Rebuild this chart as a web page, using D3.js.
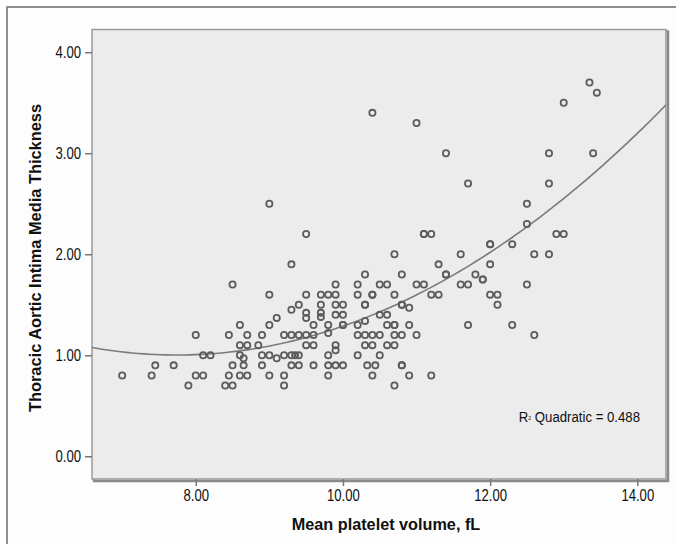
<!DOCTYPE html>
<html>
<head>
<meta charset="utf-8">
<script src="https://cdn.jsdelivr.net/npm/d3@7"></script>
<style>
  body { margin: 0; background: #fff; }
  svg { display: block; }
  .tick-label { font-family: "Liberation Sans", Arial, sans-serif; font-size: 16px; fill: #111; }
  .title { font-family: "Liberation Sans", Arial, sans-serif; font-size: 17px; font-weight: bold; fill: #111; }
</style>
</head>
<body>
<div id="chart"></div>
<script>
// mean platelet volume (x) and thoracic aortic IMT (y)
var mpv = [
  7.0, 7.4, 7.45, 7.7, 7.9, 8.0, 8.1, 8.0, 8.1, 8.2,
  8.45, 8.5, 8.45, 8.4, 8.5, 8.5, 8.6, 8.6, 8.7, 8.7,
  8.6, 8.65, 8.65, 8.6, 8.7, 8.9, 8.85, 8.9, 8.9, 9.0,
  9.0, 9.0, 9.0, 9.0, 9.1, 9.1, 9.2, 9.2, 9.2, 9.2,
  9.3, 9.3, 9.3, 9.3, 9.35, 9.3, 9.4, 9.4, 9.4, 9.4,
  9.5, 9.5, 9.5, 9.5, 9.5, 9.5, 9.6, 9.6, 9.6, 9.6,
  9.7, 9.7, 9.7, 9.7, 9.8, 9.8, 9.8, 9.8, 9.8, 9.8,
  9.9, 9.9, 9.9, 9.9, 9.9, 9.9, 9.9, 10.0, 10.0, 10.0,
  10.0, 10.0, 10.2, 10.2, 10.2, 10.2, 10.2, 10.3, 10.3, 10.3,
  10.3, 10.3, 10.3, 10.33, 10.4, 10.4, 10.4, 10.4, 10.4, 10.44,
  10.4, 10.5, 10.5, 10.5, 10.5, 10.6, 10.6, 10.6, 10.6, 10.7,
  10.7, 10.7, 10.7, 10.7, 10.7, 10.7, 10.8, 10.8, 10.8, 10.8,
  10.8, 10.8, 10.9, 10.9, 10.9, 11.0, 11.0, 11.0, 11.1, 11.1,
  11.1, 11.2, 11.2, 11.2, 11.3, 11.3, 11.4, 11.4, 11.4, 11.6,
  11.6, 11.7, 11.7, 11.7, 11.8, 11.9, 11.9, 12.0, 12.0, 12.0,
  12.0, 12.1, 12.1, 12.3, 12.3, 12.5, 12.5, 12.5, 12.6, 12.6,
  12.8, 12.8, 12.8, 12.9, 13.0, 13.0, 13.35, 13.4, 13.45
];
var imt = [
  0.8, 0.8, 0.9, 0.9, 0.7, 0.8, 0.8, 1.2, 1.0, 1.0,
  1.2, 0.9, 0.8, 0.7, 0.7, 1.7, 1.3, 1.1, 1.2, 1.1,
  1.0, 0.97, 0.9, 0.8, 0.8, 1.2, 1.1, 1.0, 0.9, 1.3,
  1.0, 0.8, 1.6, 2.5, 1.37, 0.97, 1.2, 0.8, 0.7, 1.0,
  1.45, 1.9, 1.2, 1.0, 1.0, 0.9, 1.2, 1.0, 0.9, 1.5,
  2.2, 1.6, 1.42, 1.37, 1.2, 1.1, 1.3, 1.2, 1.1, 0.9,
  1.6, 1.5, 1.42, 1.38, 1.6, 1.3, 1.22, 1.0, 0.9, 0.8,
  1.7, 1.6, 1.5, 1.4, 1.1, 1.05, 0.9, 1.5, 1.4, 1.3,
  1.3, 0.9, 1.7, 1.6, 1.3, 1.2, 1.0, 1.8, 1.5, 1.5,
  1.34, 1.2, 1.1, 0.9, 3.4, 1.6, 1.6, 1.2, 1.1, 0.9,
  0.8, 1.7, 1.4, 1.2, 1.0, 1.7, 1.4, 1.3, 1.1, 2.0,
  1.6, 1.3, 1.3, 1.2, 1.1, 0.7, 1.8, 1.5, 1.5, 1.2,
  0.9, 0.9, 1.47, 1.3, 0.8, 3.3, 1.7, 1.2, 2.2, 2.2,
  1.7, 2.2, 1.6, 0.8, 1.9, 1.6, 3.0, 1.8, 1.8, 2.0,
  1.7, 2.7, 1.7, 1.3, 1.8, 1.75, 1.75, 2.1, 2.1, 1.9,
  1.6, 1.6, 1.5, 2.1, 1.3, 2.5, 2.3, 1.7, 2.0, 1.2,
  3.0, 2.7, 2.0, 2.2, 3.5, 2.2, 3.7, 3.0, 3.6
];

var xTicks = [8, 10, 12, 14];
var yTicks = [0, 1, 2, 3, 4];
var xTitle = 'Mean platelet volume, fL';
var yTitle = 'Thoracic Aortic Intima Media Thickness';
var fitLabel = ' Quadratic = 0.488';

var width = 676, height = 544;
var plot = { left: 92, right: 666, top: 29.5, bottom: 479 };
var narrow = 0.82;   // the original uses a condensed face

var svg = d3.select('#chart')
  .append('svg')
  .attr('width', width)
  .attr('height', height);

//--- OUTER FRAME
svg.append('rect')
  .attr('x', 7).attr('y', 7)
  .attr('width', width).attr('height', height)
  .attr('fill', '#fdfdfd')
  .attr('stroke', '#6e6e6e')
  .attr('stroke-width', 1.5);

//--- SCALES
var scaleX = d3.scaleLinear()
  .domain([6.59, 14.39])
  .range([plot.left, plot.right]);

var scaleY = d3.scaleLinear()
  .domain([-0.225, 4.225])
  .range([plot.bottom, plot.top]);

//--- PLOT AREA (with the shadowed right/bottom edge)
svg.append('rect')
  .attr('x', plot.left + 2).attr('y', plot.top + 2)
  .attr('width', plot.right - plot.left).attr('height', plot.bottom - plot.top)
  .attr('fill', 'none')
  .attr('stroke', '#8a8a8a')
  .attr('stroke-width', 2.5);

svg.append('rect')
  .attr('x', plot.left).attr('y', plot.top)
  .attr('width', plot.right - plot.left).attr('height', plot.bottom - plot.top)
  .attr('fill', '#ececec')
  .attr('stroke', '#9a9a9a')
  .attr('stroke-width', 1.5);

//--- AXES
var fmt = d3.format('.2f');

var axisX = svg.append('g')
  .attr('transform', 'translate(0,' + plot.bottom + ')')
  .call(d3.axisBottom(scaleX).tickValues(xTicks).tickSize(7).tickFormat(fmt));

var axisY = svg.append('g')
  .attr('transform', 'translate(' + plot.left + ',0)')
  .call(d3.axisLeft(scaleY).tickValues(yTicks).tickSize(7).tickFormat(fmt));

[axisX, axisY].forEach(function(g) {
  g.attr('font-size', null).attr('font-family', null);
  g.select('.domain').remove();
  g.selectAll('.tick line').attr('stroke', '#777').attr('stroke-width', 1.5);
  g.selectAll('.tick text')
    .attr('class', 'tick-label')
    .attr('fill', null)
    .attr('transform', 'scale(' + narrow + ',1)');
});
axisX.selectAll('.tick text').attr('dy', null).attr('x', 0).attr('y', 22);
axisY.selectAll('.tick text').attr('x', -11 / narrow);

//--- QUADRATIC FIT (least squares on the points)
function quadFit(xs, ys) {
  var s = [0, 0, 0, 0, 0], t = [0, 0, 0];
  for (var i = 0; i < xs.length; i++) {
    var x = xs[i], y = ys[i];
    for (var k = 0; k < 5; k++) s[k] += Math.pow(x, k);
    for (var k2 = 0; k2 < 3; k2++) t[k2] += y * Math.pow(x, k2);
  }
  var m = [[s[0], s[1], s[2], t[0]], [s[1], s[2], s[3], t[1]], [s[2], s[3], s[4], t[2]]];
  for (var c = 0; c < 3; c++) {
    for (var r = c + 1; r < 3; r++) {
      var f = m[r][c] / m[c][c];
      for (var j = c; j < 4; j++) m[r][j] -= f * m[c][j];
    }
  }
  var b = [0, 0, 0];
  for (var r2 = 2; r2 >= 0; r2--) {
    var v = m[r2][3];
    for (var j2 = r2 + 1; j2 < 3; j2++) v -= m[r2][j2] * b[j2];
    b[r2] = v / m[r2][r2];
  }
  return b;
}

var coef = quadFit(mpv, imt);
var curveX = d3.range(0, 101).map(function(i) {
  return scaleX.domain()[0] + i * (scaleX.domain()[1] - scaleX.domain()[0]) / 100;
});

var lineFunc = d3.line()
  .x(function(d) { return scaleX(d); })
  .y(function(d) { return scaleY(coef[0] + coef[1] * d + coef[2] * d * d); });

svg.append('clipPath')
  .attr('id', 'clip')
  .append('rect')
  .attr('x', plot.left).attr('y', plot.top)
  .attr('width', plot.right - plot.left).attr('height', plot.bottom - plot.top);

svg.append('path')
  .datum(curveX)
  .attr('d', lineFunc)
  .attr('clip-path', 'url(#clip)')
  .attr('fill', 'none')
  .attr('stroke', '#7a7a7a')
  .attr('stroke-width', 1.6);

//--- POINTS
svg.append('g')
  .selectAll('circle')
  .data(mpv)
  .enter()
  .append('circle')
  .attr('cx', function(d) { return scaleX(d); })
  .attr('cy', function(d, i) { return scaleY(imt[i]); })
  .attr('r', 3.1)
  .attr('fill', 'none')
  .attr('stroke', '#5c5c5c')
  .attr('stroke-width', 1.8);

//--- R2 LABEL
var r2 = svg.append('text')
  .attr('class', 'tick-label')
  .attr('transform', 'translate(640,422) scale(0.88,1)')
  .attr('text-anchor', 'end')
  .style('font-size', '15px');
r2.append('tspan').text('R');
r2.append('tspan').text('2').style('font-size', '6px').attr('dy', -2);
r2.append('tspan').text(fitLabel).attr('dy', 2);

//--- AXIS TITLES
svg.append('text')
  .attr('class', 'title')
  .attr('transform', 'translate(386,530) scale(0.955,1)')
  .attr('text-anchor', 'middle')
  .text(xTitle);

svg.append('text')
  .attr('class', 'title')
  .attr('transform', 'translate(41,258) rotate(-90) scale(0.965,1)')
  .attr('text-anchor', 'middle')
  .text(yTitle);
</script>
</body>
</html>
